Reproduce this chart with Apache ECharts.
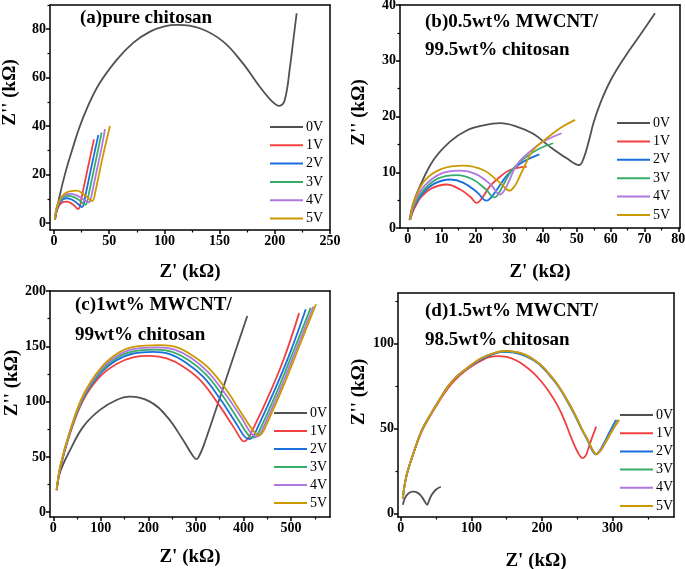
<!DOCTYPE html>
<html>
<head>
<meta charset="utf-8">
<script src="https://cdn.jsdelivr.net/npm/echarts@6/dist/echarts.min.js"></script>
<style>
html, body { margin: 0; padding: 0; background: #fff; }
#chart { width: 685px; height: 569px; }
</style>
</head>
<body>
<div id="chart"></div>
<script>
const voltages = ['0V', '1V', '2V', '3V', '4V', '5V'];
const lineColors = ['#515151', '#F14040', '#1A6FDF', '#37AD6B', '#B177DE', '#CC9900'];

// (a) pure chitosan  [Z', Z''] in kΩ
const a0V = [[1,1.5],[5,11],[11,22],[17,31],[23,39.5],[30,47.5],[41,57.5],[57,67.5],[72,74.5],[87,79],[100,81.2],[112,81.8],[132,80.4],[153,75],[171,66],[186,56.5],[198,50],[204,48.4],[209,50.8],[213.8,64.6],[216.8,75.6],[219.8,86.6]];
const a1V = [[0.8,1.5],[2.5,5],[5,7.5],[8,8.7],[11.5,8.9],[15,8.4],[18.5,7.2],[22,5.8],[23.5,7],[25,10.5],[28,17],[31,23.5],[34,29.8],[36.2,34.6]];
const a2V = [[0.8,1.5],[2.5,5.5],[5,8.3],[8,9.8],[11.5,10.3],[15.5,9.9],[19.5,8.8],[23,7.4],[25.5,6.6],[27,8],[28.5,11.5],[31.5,18],[34.5,24.5],[37.5,30.8],[40.2,36.4]];
const a3V = [[0.8,1.5],[2.5,6],[5.5,9.2],[9,10.8],[13,11.3],[17.5,10.9],[22,9.8],[26,8.3],[28.5,7.6],[30,8.8],[31.5,12],[34.5,18.5],[37.5,25],[40.5,31.5],[43.2,37.4]];
const a4V = [[0.8,1.5],[2.5,6.5],[6,10],[10,11.7],[14.5,12.1],[19.5,11.7],[24.5,10.5],[29,9],[31.5,8.6],[33,9.6],[34.5,12.5],[37.5,19],[40.5,25.5],[43.5,32],[46.2,38.8]];
const a5V = [[0.8,1.5],[3,7.5],[7,11],[12,12.8],[17,13.3],[20.5,13.4],[25,12.6],[29.5,11],[33,9.5],[34.5,9.1],[36,10],[37.5,13],[40.5,19.5],[43.5,26],[47,33],[50.7,40.1]];

// (b) 0.5wt% MWCNT / 99.5wt% chitosan
const b0V = [[0.5,1.4],[1.5,4.2],[3.6,7.5],[7.6,12.2],[12.5,15.5],[17.4,17.5],[22.3,18.4],[27.3,18.8],[32.2,18.2],[37.1,16.9],[42,14.6],[47,12.5],[50.7,11.3],[52,12.5],[53.5,15.5],[55,19],[57,22.5],[60,26.5],[64,30.5],[68.7,34.6],[73.1,38.5]];
const b1V = [[0.7,1.5],[2,3.6],[4,5.6],[7,7.1],[11.5,7.8],[15.5,6.9],[18.5,5.6],[20.4,4.5],[22,5.4],[24.3,7.5],[27.3,9.2],[30.2,10.4],[35.2,11]];
const b2V = [[0.7,1.5],[2,4],[4.5,6.3],[8,8],[12.5,8.7],[16.5,8.1],[20.5,6.4],[23.3,4.9],[24.8,5.6],[26.4,6.9],[29.4,9.5],[33.4,11.6],[38.9,13.2]];
const b3V = [[0.7,1.5],[2,4.3],[5,7],[9,8.9],[14.5,9.5],[19,8.8],[23,7],[25.6,5.5],[27,6.3],[28.3,7.8],[31.2,10.7],[35.2,12.8],[39.1,14.3],[43,15.2]];
const b4V = [[0.7,1.5],[2,4.6],[5,7.6],[10,9.8],[15.5,10.3],[20,9.7],[24.5,7.8],[27.3,6],[28.5,6.7],[29.7,8.1],[32.2,11.3],[36.1,13.7],[40.1,15.5],[45.5,17]];
const b5V = [[0.7,1.5],[2,5],[5,8.5],[10,10.6],[16.4,11.2],[22.3,10.4],[27.3,8.1],[30.2,6.7],[31.2,7.2],[32.2,8.1],[34.7,11.3],[37.1,14],[41.1,16.1],[45,17.9],[49.5,19.4]];

// (c) 1wt% MWCNT / 99wt% chitosan
const c0V = [[7,20],[14,36],[35,56],[63,77.4],[98,92.5],[133,101.5],[161,104.5],[203,100],[239,86.4],[273,65.3],[292,52],[301.6,48],[308,52],[316,60],[344,95.4],[372,131.6],[408,177.4]];
const c1V = [[7,20],[15,40],[35,71],[63,101.5],[98,122.5],[133,134],[168,140],[203.5,141.3],[238.5,139],[273.5,131.6],[308.6,119.6],[343.7,100],[378.6,77.4],[395,66],[401,64],[408,66],[414,70],[449,101.5],[484,137.6],[517,180]];
const c2V = [[7,20],[15,41],[35,72],[63,103],[98,125],[133,137.5],[168,143.5],[210,145],[245,143],[280,135],[315,122.5],[350,103],[385,80],[403,68],[413.8,66.2],[421,69],[428,75],[462,107],[497,143],[531,183.5]];
const c3V = [[7,20],[15,41.5],[35,72.5],[63,104],[98,126.5],[133,139.5],[168,145.5],[215,147],[250,145],[285,137.5],[320,125],[355,106],[390,83],[410,70],[422,67.4],[429,70],[436,76],[470,108.5],[505,145.5],[541.5,185]];
const c4V = [[7,20],[15,42],[35,73],[63,105],[98,128],[133,141],[168,147.5],[220,149],[255,147],[290,139.5],[325,127],[360,108],[395,86],[415,72],[428,68.3],[435,71],[442,77],[476,110],[511,147],[547,186]];
const c5V = [[7,20],[15,42.5],[35,73.5],[63,106],[98,129.5],[133,143],[168,149.5],[225,151],[260,149],[295,141],[330,129],[365,110],[395,90],[420,74],[433,69.3],[440,72],[447,78],[481,111],[516,148.5],[552.6,188]];

// (d) 1.5wt% MWCNT / 98.5wt% chitosan
const d0V = [[2.8,5],[6,9],[11,11.8],[17.5,12.7],[24,12],[30,9.5],[34.5,6.5],[37.3,5],[40,7.5],[44,11],[50,14],[56.7,15.6]];
const d1V = [[2.8,8.8],[8,22],[19.4,37],[30,48.5],[43,58.3],[55,66.3],[66.6,73.5],[78,79],[90.3,83.5],[102,87],[113.8,89.8],[125,91.8],[137.5,92.5],[150,92],[163,90],[175,87],[188,82.5],[199,77.5],[210,71.5],[222.5,63],[232,54.5],[241.4,44.5],[250,36.5],[257.9,32.4],[262,34],[265,37.2],[270,43.5],[276.8,51]];
const d2V = [[2.8,8.8],[8,22],[19.4,37.2],[30,49],[43,58.8],[55,67],[66.6,74.5],[78,80],[90.3,84],[102,87.5],[113.8,90.5],[130,93.5],[145,95],[160,94.5],[175,92.8],[188,90],[199,86.5],[210,81.5],[222.5,75],[235,66.5],[246,58],[256,49.5],[265,42.5],[271,37],[276,34.7],[282,37],[288,41.5],[296,48],[304.7,54.9]];
const d3V = [[2.8,8.8],[8,22],[19.4,37.2],[30,49],[43,58.8],[55,67],[66.6,74.5],[78,80],[90.3,84.2],[102,87.8],[113.8,91],[130,93.8],[147,95.3],[162,94.8],[175,93.3],[188,90.3],[199,86.8],[210,81.8],[222.5,75.3],[235,66.8],[246,58.5],[256,49.8],[265,42.8],[272,37],[277,34.7],[283,37],[289,41.2],[298,48],[306.5,54.9]];
const d4V = [[2.8,8.8],[8,22],[19.4,37.2],[30,49],[43,58.8],[55,67],[66.6,74.5],[78,80],[90.3,84.3],[102,88],[113.8,91.2],[130,94],[147,95.5],[162,95],[175,93.5],[188,90.5],[199,87],[210,82],[222.5,75.5],[235,67],[246,58.8],[256,50],[265,43],[272,37],[277.5,34.7],[283,37],[289,41],[300,49],[308,54.9]];
const d5V = [[2.8,8.8],[8,22],[19.4,37.2],[30,49],[43,58.8],[55,67],[66.6,74.5],[78,80],[90.3,84.3],[102,88],[113.8,91.2],[130,94],[147,95.5],[162,95],[175,93.5],[188,90.5],[199,87],[210,82],[222.5,75.5],[235,67],[246,58.8],[256,50],[265,43],[272,37],[277.5,34.7],[283,37],[289,41],[300,49],[309.4,54.9]];

// tick positions (major with labels, minor without)
const aXTicks = [0, 50, 100, 150, 200, 250];
const aXMinor = [25, 75, 125, 175, 225];
const aYTicks = [0, 20, 40, 60, 80];
const aYMinor = [10, 30, 50, 70, 90];
const bXTicks = [0, 10, 20, 30, 40, 50, 60, 70, 80];
const bXMinor = [5, 15, 25, 35, 45, 55, 65, 75];
const bYTicks = [0, 10, 20, 30, 40];
const bYMinor = [5, 15, 25, 35];
const cXTicks = [0, 100, 200, 300, 400, 500];
const cXMinor = [50, 150, 250, 350, 450, 550];
const cYTicks = [0, 50, 100, 150, 200];
const cYMinor = [25, 75, 125, 175];
const dXTicks = [0, 100, 200, 300];
const dXMinor = [50, 150, 250, 350];
const dYTicks = [0, 50, 100];
const dYMinor = [25, 75, 125];

const serif = 'Liberation Serif';

const panels = [
  {
    title: '(a)pure chitosan', titlePos: { left: 80, top: 4.5, lh: 28 },
    grid: { left: 50, top: 5, width: 280, height: 225 },
    x: [-3.6, 250], y: [-2.8, 90],
    xTicks: aXTicks, xMinor: aXMinor, yTicks: aYTicks, yMinor: aYMinor,
    series: [a0V, a1V, a2V, a3V, a4V, a5V],
    xGap: 33, yGap: 30, yShift: 25,
    legend: { left: 269, top: 120, gap: 4.3 }
  },
  {
    title: '(b)0.5wt% MWCNT/\n99.5wt% chitosan', titlePos: { left: 425, top: 8.5, lh: 28 },
    grid: { left: 400, top: 5, width: 280, height: 223 },
    x: [-2.3, 80.5], y: [0, 40],
    xTicks: bXTicks, xMinor: bXMinor, yTicks: bYTicks, yMinor: bYMinor,
    series: [b0V, b1V, b2V, b3V, b4V, b5V],
    xGap: 35, yGap: 31, yShift: 4,
    legend: { left: 616, top: 116, gap: 4.4 }
  },
  {
    title: '(c)1wt% MWCNT/\n99wt% chitosan', titlePos: { left: 75, top: 290.5, lh: 30 },
    grid: { left: 50, top: 291, width: 280, height: 226 },
    x: [-7, 582], y: [-4.3, 200],
    xTicks: cXTicks, xMinor: cXMinor, yTicks: cYTicks, yMinor: cYMinor,
    series: [c0V, c1V, c2V, c3V, c4V, c5V],
    xGap: 31, yGap: 26, yShift: 21,
    legend: { left: 273, top: 406, gap: 4 }
  },
  {
    title: '(d)1.5wt% MWCNT/\n98.5wt% chitosan', titlePos: { left: 425, top: 296, lh: 29.5 },
    grid: { left: 398, top: 293, width: 276, height: 224 },
    x: [-4, 387], y: [-2.2, 129.6],
    xTicks: dXTicks, xMinor: dXMinor, yTicks: dYTicks, yMinor: dYMinor,
    series: [d0V, d1V, d2V, d3V, d4V, d5V],
    xGap: 35, yGap: 29, yShift: 13,
    legend: { left: 619, top: 408, gap: 4.2 }
  }
];

function mainAxis(i, range, ticks, name, gap, shift) {
  return {
    type: 'value', gridIndex: i, min: range[0], max: range[1],
    name: name, nameLocation: 'middle', nameGap: gap,
    nameTextStyle: {
      fontFamily: serif, fontWeight: 'bold', fontSize: 19, color: '#000',
      padding: shift ? [0, 0, 0, shift * 2] : 0
    },
    axisLine: { onZero: false, lineStyle: { color: '#000', width: 1.5 } },
    axisTick: { length: 4, customValues: ticks, lineStyle: { color: '#000', width: 1.5 } },
    axisLabel: { customValues: ticks, margin: 4, fontFamily: serif, fontWeight: 'bold', fontSize: 14, color: '#000' },
    splitLine: { show: false }
  };
}

function minorAxis(i, range, ticks) {
  return {
    type: 'value', gridIndex: i, min: range[0], max: range[1],
    axisLine: { show: false, onZero: false },
    axisTick: { length: 2.5, customValues: ticks, lineStyle: { color: '#000', width: 1.2 } },
    axisLabel: { show: false },
    splitLine: { show: false }
  };
}

// plain line on the opposite side, closes the frame
function frameAxis(i, range) {
  return {
    type: 'value', gridIndex: i, min: range[0], max: range[1],
    axisLine: { show: true, onZero: false, lineStyle: { color: '#000', width: 1.5 } },
    axisTick: { show: false },
    axisLabel: { show: false },
    splitLine: { show: false }
  };
}

const option = {
  animation: false,
  backgroundColor: '#fff',
  title: [], grid: [], xAxis: [], yAxis: [], legend: [], series: []
};

panels.forEach((p, i) => {
  option.title.push({
    text: p.title, left: p.titlePos.left, top: p.titlePos.top, padding: 0,
    textStyle: { fontFamily: serif, fontWeight: 'bold', fontSize: 19, lineHeight: p.titlePos.lh, color: '#000' }
  });
  option.grid.push(Object.assign({ outerBoundsMode: 'none' }, p.grid));
  option.xAxis.push(Object.assign(mainAxis(i, p.x, p.xTicks, "Z' (kΩ)", p.xGap, 0), { position: 'bottom' }));
  option.xAxis.push(Object.assign(minorAxis(i, p.x, p.xMinor), { position: 'bottom' }));
  option.xAxis.push(Object.assign(frameAxis(i, p.x), { position: 'top' }));
  option.yAxis.push(Object.assign(mainAxis(i, p.y, p.yTicks, "Z'' (kΩ)", p.yGap, p.yShift), { position: 'left' }));
  option.yAxis.push(Object.assign(minorAxis(i, p.y, p.yMinor), { position: 'left' }));
  option.yAxis.push(Object.assign(frameAxis(i, p.y), { position: 'right' }));
  option.legend.push({
    data: voltages, orient: 'vertical', left: p.legend.left, top: p.legend.top,
    itemWidth: 33, itemHeight: 14, itemGap: p.legend.gap, padding: 0, selectedMode: false,
    itemStyle: { opacity: 0 },
    textStyle: { fontFamily: serif, fontSize: 14, color: '#000', padding: [0, 0, 0, -2] }
  });
  p.series.forEach((arr, k) => {
    option.series.push({
      name: voltages[k], type: 'line',
      xAxisIndex: 3 * i, yAxisIndex: 3 * i,
      data: arr, symbol: 'none', smooth: 0.4,
      lineStyle: { width: 1.8, color: lineColors[k] },
      itemStyle: { color: lineColors[k] }
    });
  });
});

const myChart = echarts.init(document.getElementById('chart'));
myChart.setOption(option);
</script>
</body>
</html>
